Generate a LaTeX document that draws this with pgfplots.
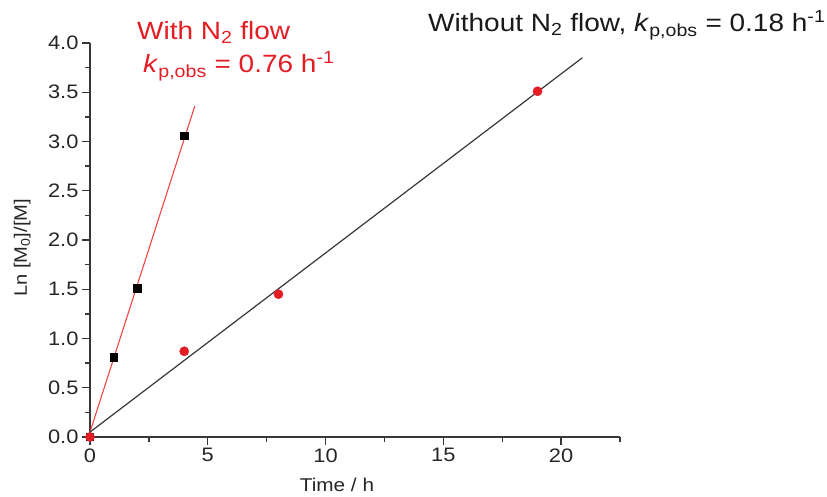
\documentclass[border=0pt]{standalone}
\usepackage{fontspec}
\setmainfont{Liberation Sans}[FakeStretch=1.12]
\usepackage{pgfplots}
\pgfplotsset{compat=1.18}
\definecolor{ptred}{RGB}{228,28,36}
\definecolor{fitred}{RGB}{236,70,70}
\definecolor{axgray}{RGB}{55,55,55}
\begin{document}
\begin{tikzpicture}
\path[use as bounding box] (0,0) rectangle (827pt,497pt);
\begin{axis}[
  at={(90pt,60pt)}, anchor=south west,
  scale only axis, width=530pt, height=394pt,
  xmin=0, xmax=22.5, ymin=0, ymax=4,
  axis x line*=bottom, axis y line*=left,
  axis line style={axgray, line width=1.6pt},
  xtick={0,5,10,15,20},
  ytick={0,0.5,1,1.5,2,2.5,3,3.5,4},
  minor xtick={2.5,7.5,12.5,17.5,22.5},
  minor ytick={0.25,0.75,1.25,1.75,2.25,2.75,3.25,3.75},
  tick align=outside,
  major tick length=8pt, minor tick length=5pt,
  tick style={axgray, line width=1.4pt},
  /pgf/number format/assume math mode=true,
  ticklabel style={font=\fontsize{19.5}{21}\selectfont, text=black!85},
  yticklabel style={/pgf/number format/.cd, fixed, fixed zerofill, precision=1},
  clip=false,
]
% linear fits
\addplot[fitred, line width=1.1pt] coordinates {(0,0.05) (4.45,3.36)};
\addplot[axgray, line width=1.2pt] coordinates {(0,0.05) (20.9,3.85)};
% with N2 flow
\addplot[only marks, mark=square*, mark size=3.6pt, mark options={fill=black, draw=black}]
  coordinates {(0,0) (1,0.81) (2,1.51) (4,3.06)};
% without N2 flow
\addplot[only marks, mark=*, mark size=4.6pt, mark options={fill=ptred, draw=ptred}]
  coordinates {(0,0) (4,0.87) (8,1.45) (19,3.51)};
\end{axis}
\node[anchor=base west, inner sep=0, text=ptred, font=\fontsize{25}{30}\selectfont]
  at (137pt,457pt) {With N\textsubscript{2} flow};
\node[anchor=base west, inner sep=0, text=ptred, font=\fontsize{25}{30}\selectfont]
  at (143pt,424pt) {\textit{k}\textsubscript{p,obs} = 0.76 h\textsuperscript{-1}};
\node[anchor=base west, inner sep=0, text=black!90, font=\fontsize{25}{30}\selectfont]
  at (428pt,465pt) {Without N\textsubscript{2} flow, \textit{k}\textsubscript{p,obs} = 0.18 h\textsuperscript{-1}};
\node[anchor=base, inner sep=0, text=black!85, font=\fontsize{18.5}{20}\selectfont]
  at (337pt,5pt) {Time / h};
\node[rotate=90, anchor=base, inner sep=0, text=black!85, font=\fontsize{18}{20}\selectfont]
  at (27pt,249pt) {Ln [M\textsubscript{0}]/[M]};
\end{tikzpicture}
\end{document}
